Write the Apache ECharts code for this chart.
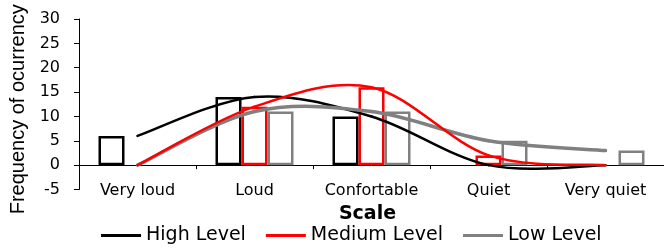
<!DOCTYPE html>
<html>
<head>
<meta charset="utf-8">
<script src="https://cdn.jsdelivr.net/npm/echarts@6/dist/echarts.min.js"></script>
<style>
  html, body { margin: 0; padding: 0; background: #fff; }
  #chart { width: 664px; height: 248px; }
</style>
</head>
<body>
<div id="chart"></div>
<script>
// scale categories
const categories = ['Very loud', 'Loud', 'Confortable', 'Quiet', 'Very quiet']

// frequency per noise level
const highLevel = [6, 14, 10, 0, 0]
const mediumLevel = [0, 12, 16, 2, 0]
const lowLevel = [0, 11, 11, 5, 3]

const levelNames = ['High Level', 'Medium Level', 'Low Level']
const levelColors = ['#000000', '#ff0000', '#808080']

const FONT = 'DejaVu Sans'

const chart = echarts.init(document.getElementById('chart'))

const levels = [highLevel, mediumLevel, lowLevel]

// hollow bars, one per level (empty bars are not drawn, like excel)
const barSeries = levels.map((data, i) => ({
  name: levelNames[i] + ' bars',
  type: 'bar',
  data: data.map(v => (v === 0 ? null : v)),
  barWidth: 26,
  barGap: '0%',
  itemStyle: {
    color: '#ffffff',
    borderColor: levelColors[i],
    borderWidth: 2.5
  },
  silent: true,
  z: 2
}))

// excel style smoothed line (catmull-rom, may overshoot), one bezier per segment
const lineWidths = [2.5, 2.5, 3.5]
const lineZ = [3, 5, 4]

function smoothRenderer(values, color, width) {
  const last = values.length - 1
  const pt = (api, k) => {
    const j = Math.max(0, Math.min(last, k))
    return api.coord([j, values[j]])
  }
  return function (params, api) {
    const i = params.dataIndex
    if (i >= last) return null
    const p0 = pt(api, i - 1)
    const p1 = pt(api, i)
    const p2 = pt(api, i + 1)
    const p3 = pt(api, i + 2)
    return {
      type: 'bezierCurve',
      shape: {
        x1: p1[0], y1: p1[1],
        x2: p2[0], y2: p2[1],
        cpx1: p1[0] + (p2[0] - p0[0]) / 6,
        cpy1: p1[1] + (p2[1] - p0[1]) / 6,
        cpx2: p2[0] - (p3[0] - p1[0]) / 6,
        cpy2: p2[1] - (p3[1] - p1[1]) / 6
      },
      style: { stroke: color, lineWidth: width, fill: null, lineCap: 'round' },
      silent: true
    }
  }
}

const lineSeries = levels.map((data, i) => ({
  name: levelNames[i],
  type: 'custom',
  data: data.map((v, k) => [k, v]),
  renderItem: smoothRenderer(data, levelColors[i], lineWidths[i]),
  itemStyle: { color: levelColors[i] },
  z: lineZ[i]
}))

chart.setOption({
  animation: false,
  textStyle: { fontFamily: FONT },
  grid: {
    left: 79,
    right: 0,
    top: 19,
    bottom: 58.5,
    outerBoundsMode: 'none',
    containLabel: false
  },
  legend: {
    data: levelNames.map(n => ({ name: n, icon: 'rect' })),
    left: 96,
    top: 221,
    itemWidth: 40,
    itemHeight: 3,
    itemGap: 20,
    textStyle: { fontFamily: FONT, fontSize: 19, color: '#000' }
  },
  xAxis: {
    type: 'category',
    data: categories,
    name: 'Scale',
    nameLocation: 'middle',
    nameGap: 15,
    nameTextStyle: {
      fontFamily: FONT,
      fontSize: 19,
      fontWeight: 'bold',
      color: '#000',
      padding: [0, 8, 0, 0]
    },
    axisLine: { onZero: true, lineStyle: { color: '#000', width: 1 } },
    axisTick: { show: true, length: 4, lineStyle: { color: '#000' } },
    axisLabel: {
      fontFamily: FONT,
      fontSize: 16,
      color: '#000',
      interval: 0,
      margin: -7
    },
    splitLine: { show: false }
  },
  yAxis: {
    type: 'value',
    min: -5,
    max: 30,
    interval: 5,
    name: 'Frequency of ocurrency',
    nameLocation: 'middle',
    nameGap: 42,
    nameTextStyle: {
      fontFamily: 'Liberation Sans',
      fontSize: 20,
      color: '#000',
      padding: [0, 10, 0, 0]
    },
    axisLine: { show: true, lineStyle: { color: '#000', width: 1 } },
    axisTick: { show: true, length: 5, lineStyle: { color: '#000' } },
    axisLabel: {
      fontFamily: FONT,
      fontSize: 16,
      color: '#000',
      margin: 19
    },
    splitLine: { show: false }
  },
  series: [...barSeries, ...lineSeries]
})
</script>
</body>
</html>
